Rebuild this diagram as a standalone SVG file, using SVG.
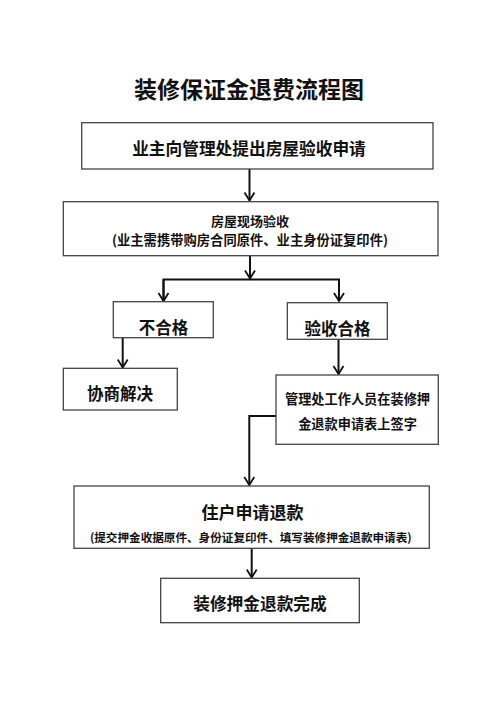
<svg xmlns="http://www.w3.org/2000/svg" width="500" height="707" viewBox="0 0 500 707">
<defs>
<style>
.box{fill:#fff;stroke:#444;stroke-width:1.3}
.t{font-family:"Noto Sans CJK SC","Noto Sans",sans-serif;font-weight:bold;fill:#111;text-anchor:middle;dominant-baseline:central}
.ln{fill:none;stroke:#111;stroke-width:2}
</style>
<marker id="ah" viewBox="0 0 12 12" refX="10" refY="6" markerWidth="12" markerHeight="12" markerUnits="userSpaceOnUse" orient="auto">
<path d="M2,1 L10,6 L2,11" fill="none" stroke="#111" stroke-width="1.8"/>
</marker>
</defs>
<rect width="500" height="707" fill="#fff"/>
<text class="t" x="249" y="88" font-size="23">装修保证金退费流程图</text>
<g id="connectors">
<path class="ln" d="M249.5,169 V200.5" marker-end="url(#ah)"/>
<path class="ln" d="M250,256 V278.5" marker-end="url(#ah)"/>
<path class="ln" d="M163.5,301 V279.5 H339 V301" marker-end="url(#ah)"/>
<path class="ln" d="M163.5,279.5 V301" marker-end="url(#ah)"/>
<path class="ln" d="M122.7,338 V367.5" marker-end="url(#ah)"/>
<path class="ln" d="M338.5,339.5 V374" marker-end="url(#ah)"/>
<path class="ln" d="M276,416 H249.3 V485" marker-end="url(#ah)"/>
<path class="ln" d="M251.7,548.5 V577.5" marker-end="url(#ah)"/>
</g>
<g id="n1"><rect class="box" x="81.7" y="122.7" width="351.3" height="46.3"/><text class="t" x="249" y="147.5" font-size="16.7">业主向管理处提出房屋验收申请</text></g>
<g id="n2"><rect class="box" x="63.3" y="201.7" width="374.7" height="54"/><text class="t" x="250" y="220.5" font-size="13">房屋现场验收</text><text class="t" x="250" y="239.5" font-size="13.3">(业主需携带购房合同原件、业主身份证复印件)</text></g>
<g id="n3"><rect class="box" x="113.3" y="301.7" width="100" height="36"/><text class="t" x="163.5" y="326.5" font-size="16.5">不合格</text></g>
<g id="n4"><rect class="box" x="287.3" y="302.7" width="100" height="36.6"/><text class="t" x="337.5" y="327.5" font-size="16.5">验收合格</text></g>
<g id="n5"><rect class="box" x="63.3" y="368.3" width="114" height="41.7"/><text class="t" x="120" y="393" font-size="16.5">协商解决</text></g>
<g id="n6"><rect class="box" x="276" y="375" width="162.3" height="69.3"/><text class="t" x="357.5" y="398.3" font-size="13.2">管理处工作人员在装修押</text><text class="t" x="357.5" y="423.3" font-size="13.2">金退款申请表上签字</text></g>
<g id="n7"><rect class="box" x="74" y="486" width="355.3" height="62.3"/><text class="t" x="252.5" y="511.7" font-size="17">住户申请退款</text><text class="t" x="250.8" y="536.7" font-size="11.6">(提交押金收据原件、身份证复印件、填写装修押金退款申请表)</text></g>
<g id="n8"><rect class="box" x="160.7" y="578.3" width="198.6" height="44.4"/><text class="t" x="260" y="603.3" font-size="16.7">装修押金退款完成</text></g>
</svg>
